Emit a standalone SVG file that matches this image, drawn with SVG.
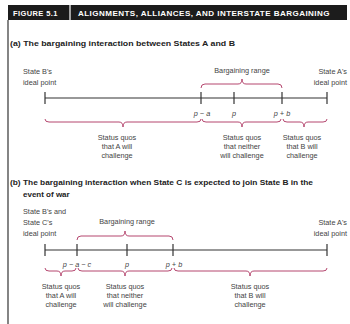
<svg xmlns="http://www.w3.org/2000/svg" width="350" height="324" viewBox="0 0 350 324">
<style>
.hd{font-family:"Liberation Sans",Arial,sans-serif;font-weight:bold;font-size:7.5px;fill:#fff;letter-spacing:0.4px}
.h2{font-family:"Liberation Sans",Arial,sans-serif;font-weight:bold;font-size:8px;fill:#222}
.t{font-family:"Liberation Sans",Arial,sans-serif;font-size:7.3px;fill:#444}
.m{text-anchor:middle}
.e{text-anchor:end}
.pi{font-family:"Liberation Sans",Arial,sans-serif;font-size:7.3px;fill:#444;text-anchor:middle;font-style:italic}
.ax{stroke:#333;stroke-width:1.2;fill:none}
.br{stroke:#b5476f;stroke-width:1;fill:none}
</style>
<rect x="0" y="0" width="350" height="324" fill="#fff"/>
<g id="header">
<rect x="8" y="5" width="339" height="15" fill="#1c1c1c"/>
<line x1="70" y1="5" x2="70" y2="20" stroke="#fff" stroke-width="1.2"/>
<text class="hd" x="13" y="15.5">FIGURE 5.1</text>
<text class="hd" x="78" y="15.5" textLength="252" lengthAdjust="spacingAndGlyphs">ALIGNMENTS, ALLIANCES, AND INTERSTATE BARGAINING</text>
<line x1="8" y1="20" x2="8" y2="324" stroke="#333" stroke-width="1.2"/>
</g>
<g id="panel-a">
<text class="h2" x="10" y="46" textLength="225" lengthAdjust="spacingAndGlyphs">(a) The bargaining interaction between States A and B</text>
<g id="a-B-ideal"><text class="t" x="23" y="74">State B's</text><text class="t" x="23" y="85">ideal point</text></g>
<g id="a-A-ideal"><text class="t e" x="347" y="74">State A's</text><text class="t e" x="347" y="85">ideal point</text></g>
<g id="a-range"><text class="t m" x="242" y="73">Bargaining range</text></g>
<g id="a-axis">
<line class="ax" x1="45" y1="98" x2="327" y2="98"/>
<line class="ax" x1="45" y1="92" x2="45" y2="104"/>
<line class="ax" x1="201" y1="92" x2="201" y2="104"/>
<line class="ax" x1="234" y1="92" x2="234" y2="104"/>
<line class="ax" x1="282" y1="92" x2="282" y2="104"/>
<line class="ax" x1="327" y1="92" x2="327" y2="104"/>
<text class="pi" x="202" y="116">p − a</text>
<text class="pi" x="234" y="116">p</text>
<text class="pi" x="282" y="116">p + b</text>
</g>
<g id="a-sq1"><text class="t m" x="117" y="140">Status quos</text><text class="t m" x="117" y="149">that A will</text><text class="t m" x="117" y="158">challenge</text></g>
<g id="a-sq2"><text class="t m" x="242" y="140">Status quos</text><text class="t m" x="242" y="149">that neither</text><text class="t m" x="242" y="158">will challenge</text></g>
<g id="a-sq3"><text class="t m" x="302" y="140">Status quos</text><text class="t m" x="302" y="149">that B will</text><text class="t m" x="302" y="158">challenge</text></g>
</g>
<g id="panel-b">
<text class="h2" x="10" y="185" textLength="303" lengthAdjust="spacingAndGlyphs">(b) The bargaining interaction when State C is expected to join State B in the</text>
<text class="h2" x="23" y="197">event of war</text>
<g id="b-BC-ideal"><text class="t" x="23" y="214">State B's and</text><text class="t" x="23" y="225">State C's</text><text class="t" x="23" y="236">ideal point</text></g>
<g id="b-A-ideal"><text class="t e" x="347" y="225">State A's</text><text class="t e" x="347" y="236">ideal point</text></g>
<g id="b-range"><text class="t m" x="127" y="224">Bargaining range</text></g>
<g id="b-axis">
<line class="ax" x1="45" y1="250" x2="327" y2="250"/>
<line class="ax" x1="45" y1="244" x2="45" y2="256"/>
<line class="ax" x1="77" y1="244" x2="77" y2="256"/>
<line class="ax" x1="127" y1="244" x2="127" y2="256"/>
<line class="ax" x1="173" y1="244" x2="173" y2="256"/>
<line class="ax" x1="327" y1="244" x2="327" y2="256"/>
<text class="pi" x="77" y="267">p − a − c</text>
<text class="pi" x="127" y="267">p</text>
<text class="pi" x="174" y="267">p + b</text>
</g>
<g id="b-sq1"><text class="t m" x="61" y="289">Status quos</text><text class="t m" x="61" y="298">that A will</text><text class="t m" x="61" y="307">challenge</text></g>
<g id="b-sq2"><text class="t m" x="125" y="289">Status quos</text><text class="t m" x="125" y="298">that neither</text><text class="t m" x="125" y="307">will challenge</text></g>
<g id="b-sq3"><text class="t m" x="250" y="289">Status quos</text><text class="t m" x="250" y="298">that B will</text><text class="t m" x="250" y="307">challenge</text></g>
</g>
<g id="connectors">
<!-- (a) upper brace -->
<path class="br" d="M201,88 Q201,84 205,84 L238,84 Q242,84 242,79 Q242,84 246,84 L278,84 Q282,84 282,88"/>
<!-- (a) lower braces -->
<path class="br" d="M45,119 Q45,122 49,122 L119,122 Q123,122 123,127 Q123,122 127,122 L197,122 Q201,122 201,119"/>
<path class="br" d="M202,119 Q202,122 206,122 L238,122 Q242,122 242,127 Q242,122 246,122 L277,122 Q281,122 281,119"/>
<path class="br" d="M283,119 Q283,122 287,122 L300,122 Q304,122 304,127 Q304,122 308,122 L323,122 Q327,122 327,119"/>
<!-- (b) upper brace -->
<path class="br" d="M77,240 Q77,236 81,236 L121,236 Q125,236 125,231 Q125,236 129,236 L169,236 Q173,236 173,240"/>
<!-- (b) lower braces -->
<path class="br" d="M45,268 Q45,271 49,271 L57,271 Q61,271 61,276 Q61,271 65,271 L72,271 Q76,271 76,268"/>
<path class="br" d="M78,268 Q78,271 82,271 L121,271 Q125,271 125,276 Q125,271 129,271 L168,271 Q172,271 172,268"/>
<path class="br" d="M174,268 Q174,271 178,271 L246,271 Q250,271 250,276 Q250,271 254,271 L323,271 Q327,271 327,268"/>
</g>
</svg>
